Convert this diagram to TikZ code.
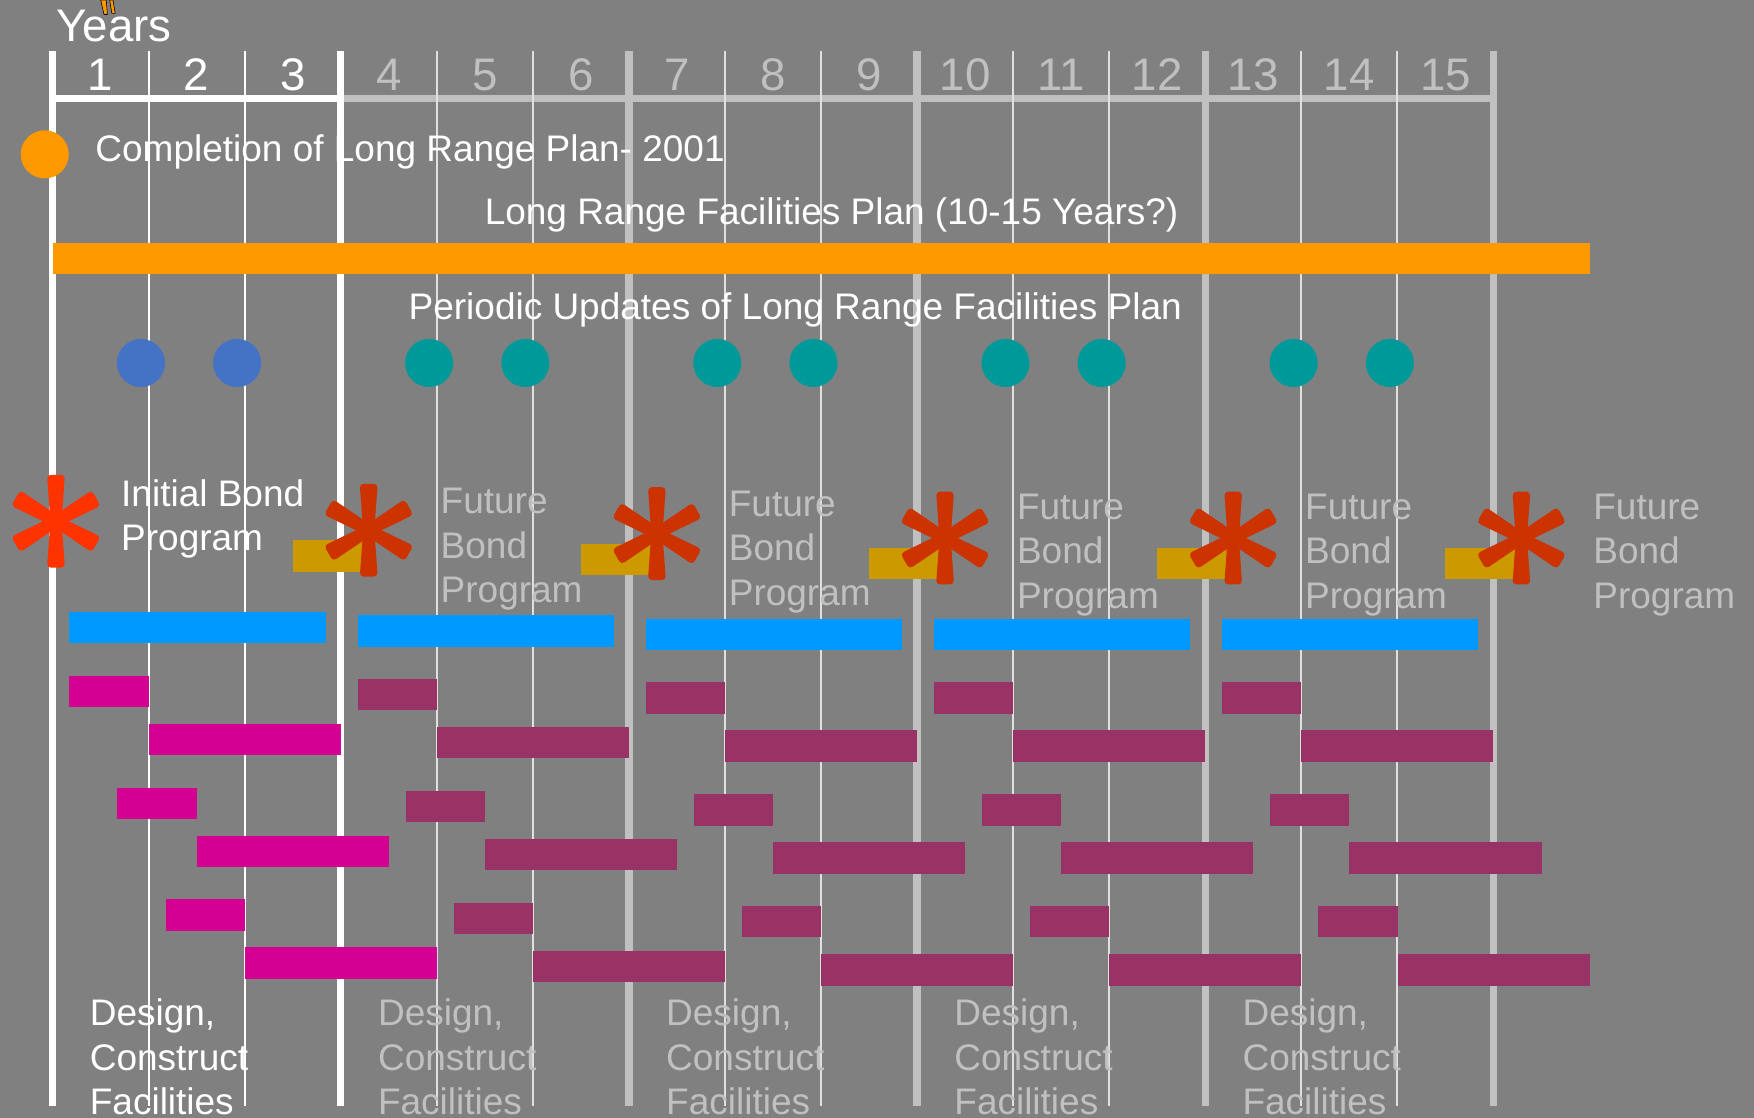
\documentclass[tikz,border=0pt]{standalone}
\usepackage{fontspec}
\setmainfont{Liberation Sans}
\usetikzlibrary{positioning}

\definecolor{slide}{HTML}{808080}
\definecolor{silver}{HTML}{C0C0C0}
\definecolor{paleline}{HTML}{E0E0E0}
\definecolor{planorange}{HTML}{FF9900}
\definecolor{updblue}{HTML}{4472C4}
\definecolor{updteal}{HTML}{009999}
\definecolor{bondgold}{HTML}{CC9900}
\definecolor{starred}{HTML}{FF3300}
\definecolor{stardark}{HTML}{CC3300}
\definecolor{phaseblue}{HTML}{0099FF}
\definecolor{buildpink}{HTML}{D40091}
\definecolor{buildplum}{HTML}{993366}

% six-armed bond marker: x, y, colour
\newcommand{\bondstar}[3]{%
  \foreach \a in {30,90,150,210,270,330}{
    \fill[#3, shift={(#1,#2)}, rotate=\a, rounded corners=2pt]
      (0,-5) -- (41.5,-8) -- (41.5,8) -- (0,5) -- cycle;
  }%
}

\begin{document}
\begin{tikzpicture}[
    x=0.02cm,
    y=-0.02cm,
    every node/.style={inner sep=0pt, text=white, font=\fontsize{18.82pt}{22.68pt}\selectfont},
    yearfont/.style={font=\fontsize{23.24pt}{28pt}\selectfont},
    thickrule/.style={line width=3.7pt},
    thinrule/.style={line width=1pt},
    updot/.style={circle, minimum size=0.86cm, inner sep=0pt},
    stack/.style={anchor=north west, align=left}
]
    \useasboundingbox (0,0) rectangle (1568,999);
    \fill[slide] (0,0) rectangle (1568,999);

    % axis
    \coordinate (ax0) at (47,88);
    \coordinate (ax3) at (304.6,88);
    \coordinate (ax15) at (1335,88);
    \draw[thickrule, white] (ax0) -- (ax3);
    \draw[thickrule, silver] (ax3) -- (ax15);

    % year rules
    \foreach \k/\col/\rl in {
        0/white/thickrule, 1/white/thinrule, 2/white/thinrule, 3/white/thickrule,
        4/paleline/thinrule, 5/paleline/thinrule, 6/silver/thickrule,
        7/paleline/thinrule, 8/paleline/thinrule, 9/silver/thickrule,
        10/paleline/thinrule, 11/paleline/thinrule, 12/silver/thickrule,
        13/paleline/thinrule, 14/paleline/thinrule, 15/silver/thickrule}{
        \coordinate (top\k) at ({47+85.87*\k},45.5);
        \coordinate (bot\k) at ({47+85.87*\k},989);
        \draw[\rl, \col] (top\k) -- (bot\k);
    }

    \foreach \n/\col in {1/white, 2/white, 3/white, 4/silver, 5/silver, 6/silver,
        7/silver, 8/silver, 9/silver, 10/silver, 11/silver, 12/silver,
        13/silver, 14/silver, 15/silver}{
        \node[yearfont, anchor=base, text=\col] (yr\n) at ({47+85.87*(\n-0.5)},81) {\n};
    }
    \node[yearfont, anchor=base west] (years) at (50,37) {Years};
    \fill[planorange, draw=black, line width=0.3pt] (90,0) -- (93,13) -- (96,13) -- (95,0) -- cycle;
    \fill[planorange, draw=black, line width=0.3pt] (98,0) -- (100,12) -- (103,12) -- (101,0) -- cycle;

    % plan
    \node[updot, fill=planorange] (done) at (40,138) {};
    \node[anchor=base west] (completion) at (85,144) {Completion of Long Range Plan- 2001};
    \node[anchor=base west] (lrfp) at (433,201) {Long Range Facilities Plan (10-15 Years?)};
    \fill[planorange] (47,217) rectangle (1421,245);
    \node[anchor=base west] (periodic) at (365,286) {Periodic Updates of Long Range Facilities Plan};

    % updates
    \node[updot, fill=updblue] (upd01) at (126,324.5) {};
    \node[updot, fill=updblue] (upd02) at (212,324.5) {};
    \foreach \g in {1,...,4}{
        \node[updot, fill=updteal] (upd\g1) at ({47+257.61*\g+79},324.5) {};
        \node[updot, fill=updteal] (upd\g2) at ({47+257.61*\g+165},324.5) {};
    }

    % bond programs
    \node[stack] (initial) at (108,428.2) {Initial Bond\\Program};
    \bondstar{50}{466}{starred}
    \foreach \g/\sy/\ty in {1/474/460, 2/477/462, 3/481/465, 4/481/465, 5/481/465}{
        \pgfmathsetmacro\xs{47+257.61*\g}
        \fill[bondgold] (\xs-43,\sy+9) rectangle (\xs+20,\sy+37);
        \bondstar{\xs+25}{\sy}{stardark}
        \node[stack, text=silver] (future\g) at (\xs+89,\ty-23.8) {Future\\Bond\\Program};
    }

    % design and construction
    \foreach \g/\dy/\col in {0/0/buildpink, 1/3/buildplum, 2/6/buildplum, 3/6/buildplum, 4/6/buildplum}{
        \pgfmathsetmacro\xs{47+257.61*\g}
        \fill[phaseblue] (\xs+15,547+\dy) rectangle (\xs+244,575+\dy);
        \foreach \sh/\row in {0/0, 43/100, 86/200}{
            \fill[\col] (\xs+15+\sh,604+\dy+\row) rectangle (\xs+85.87+\sh,632+\dy+\row);
            \fill[\col] (\xs+85.87+\sh,647+\dy+\row) rectangle (\xs+257.61+\sh,675+\dy+\row);
        }
    }
    \foreach \g/\col in {0/white, 1/silver, 2/silver, 3/silver, 4/silver}{
        \node[stack, text=\col] (design\g) at ({47+257.61*\g+33},892.4) {Design,\\Construct\\Facilities};
    }

\end{tikzpicture}
\end{document}
